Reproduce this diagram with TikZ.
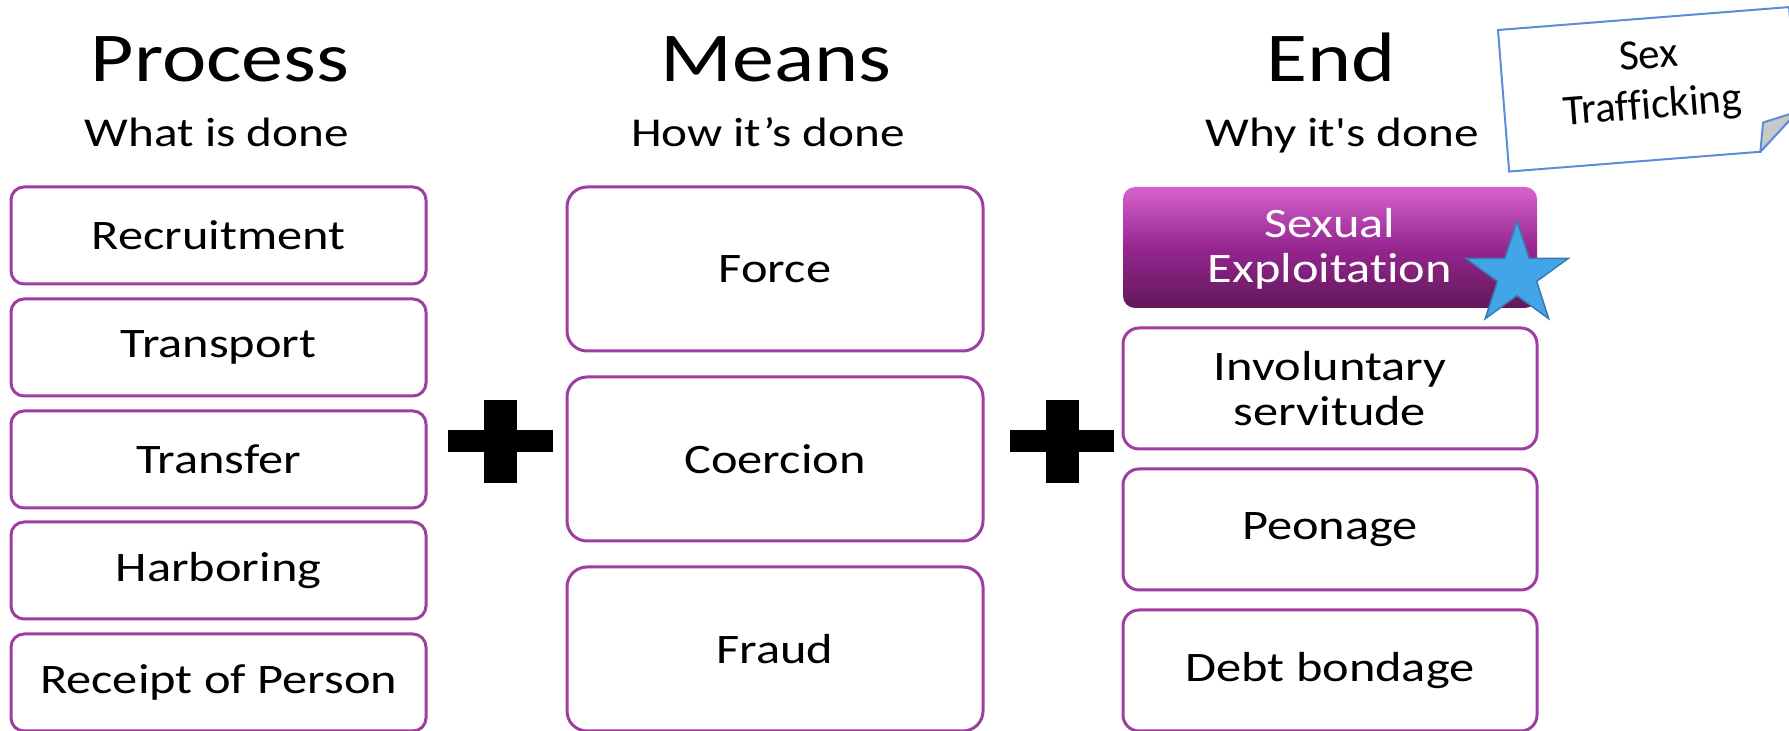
\documentclass[tikz,border=0pt]{standalone}
\usepackage{fontspec}
\setmainfont[FakeStretch=1.2,Ligatures=NoCommon]{Carlito}
\newfontfamily\notefont[Ligatures=NoCommon]{Carlito}
\newfontfamily\straightfont[FakeStretch=1.2,Ligatures={TeXOff,NoCommon}]{Carlito}
\usetikzlibrary{shapes.geometric}
\definecolor{boxborder}{RGB}{158,62,160}
\definecolor{gradtop}{RGB}{214,98,206}
\definecolor{gradmid}{RGB}{150,38,144}
\definecolor{gradbot}{RGB}{98,24,90}
\definecolor{starfill}{RGB}{66,165,232}
\definecolor{starline}{RGB}{58,122,178}
\definecolor{noteline}{RGB}{92,140,218}
\definecolor{foldgray}{RGB}{200,200,200}
\tikzset{
  itembox/.style={draw=boxborder, line width=3pt, fill=white, align=center,
    font=\fontsize{42}{45}\selectfont, inner sep=0pt},
  procbox/.style={itembox, minimum width=415pt, minimum height=97pt, rounded corners=13pt},
  meansbox/.style={itembox, minimum width=416pt, minimum height=164pt, rounded corners=20pt},
  endbox/.style={itembox, minimum width=414pt, minimum height=121pt, rounded corners=16pt},
  hotbox/.style={endbox, draw=none, top color=gradtop, bottom color=gradbot, middle color=gradmid, text=white, rounded corners=12pt},
  heading/.style={font=\fontsize{70}{80}\selectfont, anchor=base, inner sep=0pt},
  subheading/.style={font=\fontsize{41}{48}\selectfont, anchor=base, inner sep=0pt},
  plusbar/.style={fill=black, draw=none},
}
\begin{document}
\begin{tikzpicture}[x=1pt,y=1pt]
\useasboundingbox (0,0) rectangle (1789,731);
\fill[white] (0,0) rectangle (1789,731);

% headings
\node[heading] (hproc) at (220,649) {Process};
\node[subheading] (sproc) at (217,584) {What is done};
\node[heading] (hmeans) at (776,649) {Means};
\node[subheading] (smeans) at (768,584) {How it’s done};
\node[heading] (hend) at (1331,649) {End};
\node[subheading] (send) at (1342,584) {\straightfont Why it's done};

% process column
\node[procbox] (recruit) at (218.5,495.5) {Recruitment};
\node[procbox] (transport) at (218.5,383.5) {Transport};
\node[procbox] (transfer) at (218.5,271.5) {Transfer};
\node[procbox] (harbor) at (218.5,160.5) {Harboring};
\node[procbox] (receipt) at (218.5,48.5) {Receipt of Person};

% means column
\node[meansbox] (force) at (775,462) {Force};
\node[meansbox] (coercion) at (775,272) {Coercion};
\node[meansbox] (fraud) at (775,82) {Fraud};

% end column
\node[hotbox, text depth=5pt] (sexual) at (1330,483.5) {Sexual\\Exploitation};
\node[endbox] (invol) at (1330,342.5) {Involuntary\\servitude};
\node[endbox] (peon) at (1330,201.5) {Peonage};
\node[endbox] (debt) at (1330,60.5) {Debt bondage};

% star
\node[star, star points=5, star point ratio=2.618, minimum size=108pt, inner sep=0pt,
  fill=starfill, draw=starline, line width=1.5pt] (star1) at (1517,456) {};

% plus signs
\fill[plusbar] (448,278.5) rectangle (553,300.5);
\fill[plusbar] (484,248) rectangle (517,331);
\fill[plusbar] (1010,278.5) rectangle (1114,300.5);
\fill[plusbar] (1046,248) rectangle (1079,331);

% sticky note
\begin{scope}
\clip (0,0) rectangle (1789,731);
\begin{scope}[shift={(1498,701)}, rotate=4.5]
  \draw[noteline, fill=white, line width=2pt, line join=miter]
    (0,0) -- (292,0) -- (292,-105) -- (252,-142) -- (0,-142) -- cycle;
  \draw[noteline, fill=foldgray, line width=2pt, line join=round]
    (292,-105) -- (257,-113) -- (252,-142) -- cycle;
  \node[font=\notefont\fontsize{43}{50}\selectfont, align=center, rotate=4.5, inner sep=0pt]
    (notetext) at (148,-65) {Sex\\Trafficking};
\end{scope}
\end{scope}
\end{tikzpicture}
\end{document}
